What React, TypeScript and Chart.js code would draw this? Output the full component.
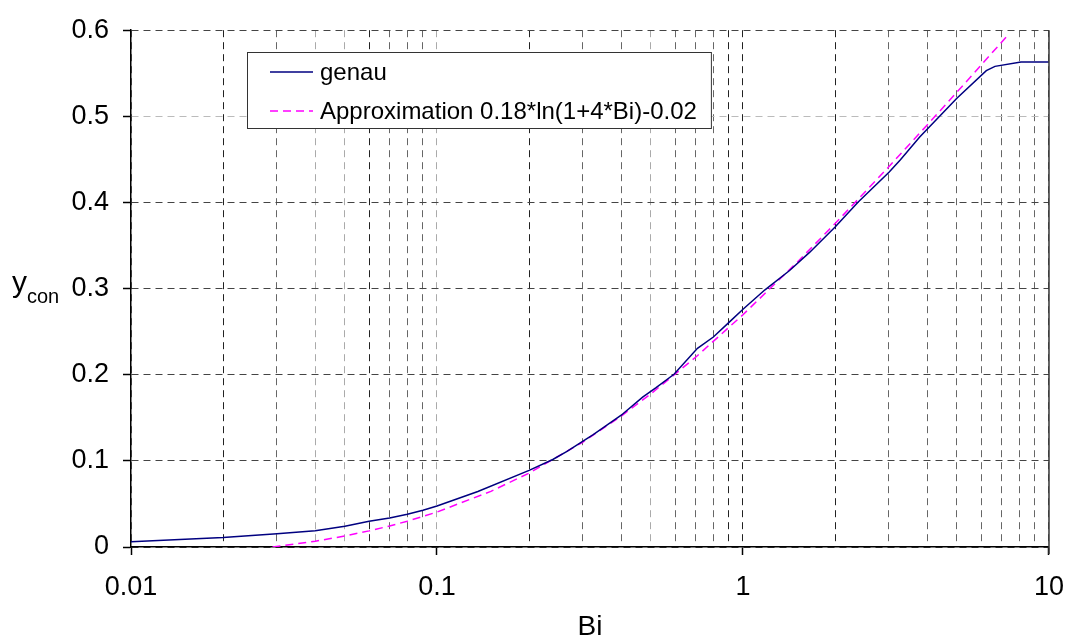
import React, { useEffect, useRef } from 'react';
import { Chart, registerables } from 'chart.js';

Chart.register(...registerables);

// ---- data ----
const genauBi = [0.01, 0.02, 0.03, 0.04, 0.05, 0.06, 0.07, 0.08, 0.09, 0.1, 0.136, 0.2, 0.239, 0.266, 0.3, 0.324, 0.4, 0.47, 0.52, 0.595, 0.71, 0.8, 0.9, 1.0, 1.18, 1.42, 1.65, 2.0, 2.38, 3.0, 3.27, 3.78, 5.0, 6.24, 6.66, 8.1, 10];
const genauY = [0.006, 0.011, 0.0155, 0.019, 0.024, 0.0298, 0.0336, 0.038, 0.0427, 0.0476, 0.0645, 0.089, 0.1016, 0.111, 0.123, 0.1306, 0.153, 0.174, 0.185, 0.2005, 0.2307, 0.2438, 0.2608, 0.276, 0.2986, 0.321, 0.342, 0.3714, 0.4005, 0.435, 0.4496, 0.476, 0.521, 0.553, 0.558, 0.563, 0.563];

const approxBi = [0.029, 0.04, 0.05, 0.06, 0.07, 0.08, 0.1, 0.15, 0.2, 0.3, 0.4, 0.5, 0.7, 1, 1.5, 2, 3, 4, 5, 6, 7.41];
const approxY = [0.0, 0.0067, 0.0128, 0.0187, 0.0244, 0.03, 0.0406, 0.0646, 0.0858, 0.1219, 0.152, 0.1778, 0.2203, 0.2697, 0.3303, 0.3755, 0.4417, 0.49, 0.528, 0.5594, 0.596];

const seriesLabels = ['genau', 'Approximation 0.18*ln(1+4*Bi)-0.02'];

const xTickValues = [0.01, 0.02, 0.03, 0.04, 0.05, 0.06, 0.07, 0.08, 0.09, 0.1, 0.2, 0.3, 0.4, 0.5, 0.6, 0.7, 0.8, 0.9, 1, 2, 3, 4, 5, 6, 7, 8, 9, 10];
const xLabelValues = [0.01, 0.1, 1, 10];
const xTickLabels = ['0.01', '0.1', '1', '10'];
const yTickValues = [0, 0.1, 0.2, 0.3, 0.4, 0.5, 0.6];
const yTickLabels = ['0', '0.1', '0.2', '0.3', '0.4', '0.5', '0.6'];

const xTitle = 'Bi';
const yTitleMain = 'y';
const yTitleSub = 'con';

// ---- styling ----
const FONT = '"Liberation Sans", Arial, Helvetica, sans-serif';
const same = (a: number, b: number) => Math.abs(Math.log10(a) - Math.log10(b)) < 1e-6;

const darkV = [0.02, 0.06, 0.2, 0.9, 1, 2];
const lightV = [0.04, 0.05, 0.1, 0.5];
function xGridColor(v: number) {
  if (darkV.some((d) => same(d, v))) return '#222';
  if (lightV.some((d) => same(d, v))) return '#aaa';
  return '#666';
}
function yGridColor(v: number) {
  if (Math.abs(v - 0.5) < 1e-6) return '#bbb';
  return '#444';
}

const decorPlugin = {
  id: 'decor',
  afterDraw(chart: any) {
    const { ctx, chartArea } = chart;
    const { left, right, top, bottom } = chartArea;
    ctx.save();
    // right border solid
    ctx.strokeStyle = '#333';
    ctx.lineWidth = 1.5;
    ctx.setLineDash([]);
    ctx.beginPath();
    ctx.moveTo(right, top);
    ctx.lineTo(right, bottom + 7);
    ctx.stroke();

    // x title
    ctx.fillStyle = '#000';
    ctx.font = `28px ${FONT}`;
    ctx.textAlign = 'center';
    ctx.textBaseline = 'alphabetic';
    ctx.fillText(xTitle, (left + right) / 2, 635);

    // y title with subscript
    ctx.textAlign = 'left';
    ctx.font = `30px ${FONT}`;
    ctx.fillText(yTitleMain, 12, 292);
    const yw = ctx.measureText(yTitleMain).width;
    ctx.font = `20px ${FONT}`;
    ctx.fillText(yTitleSub, 12 + yw, 303);

    // legend
    ctx.font = `24px ${FONT}`;
    const textX = 320;
    const textW = Math.max(...seriesLabels.map((l) => ctx.measureText(l).width));
    const bx = 247, by = 52, bh = 76;
    const bw = textX + textW + 14 - bx;
    ctx.fillStyle = '#fff';
    ctx.fillRect(bx, by, bw, bh);
    ctx.strokeStyle = '#333';
    ctx.lineWidth = 1;
    ctx.strokeRect(bx + 0.5, by + 0.5, bw, bh);
    const rows = [72, 111];
    chart.data.datasets.forEach((ds: any, i: number) => {
      const y = rows[i];
      ctx.strokeStyle = ds.borderColor;
      ctx.lineWidth = ds.borderWidth;
      ctx.setLineDash(ds.borderDash || []);
      ctx.beginPath();
      ctx.moveTo(270, y);
      ctx.lineTo(313, y);
      ctx.stroke();
      ctx.setLineDash([]);
      ctx.fillStyle = '#000';
      ctx.textBaseline = 'middle';
      ctx.fillText(ds.label, textX, y + 1);
    });
    ctx.restore();
  },
};

export default function App() {
  const ref = useRef<HTMLCanvasElement | null>(null);

  useEffect(() => {
    document.body.style.margin = '0';
    const canvas = ref.current;
    if (!canvas) return;
    const chart = new Chart(canvas, {
      type: 'line',
      data: {
        datasets: [
          {
            label: seriesLabels[0],
            data: genauBi.map((x, i) => ({ x, y: genauY[i] })),
            borderColor: '#000080',
            borderWidth: 1.5,
            pointRadius: 0,
            tension: 0,
            fill: false,
          },
          {
            label: seriesLabels[1],
            data: approxBi.map((x, i) => ({ x, y: approxY[i] })),
            borderColor: '#ff00ff',
            borderWidth: 1.5,
            borderDash: [8, 5],
            pointRadius: 0,
            tension: 0,
            fill: false,
          },
        ],
      },
      options: {
        animation: false,
        responsive: false,
        devicePixelRatio: 1,
        layout: { padding: { top: 17, right: 24, left: 0, bottom: 0 } },
        plugins: {
          legend: { display: false },
          tooltip: { enabled: false },
        },
        scales: {
          x: {
            type: 'logarithmic',
            min: 0.01,
            max: 10,
            afterBuildTicks: (scale: any) => {
              scale.ticks = xTickValues.map((v) => ({ value: v }));
            },
            afterFit: (scale: any) => {
              scale.height = 93;
            },
            ticks: {
              autoSkip: false,
              maxRotation: 0,
              minRotation: 0,
              padding: 16,
              color: '#000',
              font: { family: FONT, size: 27 },
              callback: (v: any) => {
                const j = xLabelValues.findIndex((d) => same(d, Number(v)));
                return j >= 0 ? xTickLabels[j] : '';
              },
            },
            grid: {
              display: true,
              drawOnChartArea: true,
              drawTicks: true,
              tickLength: 8,
              lineWidth: 1,
              color: (c: any) => xGridColor(c.tick ? c.tick.value : 1),
              tickColor: (c: any) =>
                c.tick && xLabelValues.some((d) => same(d, c.tick.value)) ? '#000' : 'rgba(0,0,0,0)',
              tickWidth: 1.5,
            },
            border: { display: true, color: '#000', width: 1.5, dash: [7, 5] },
          },
          y: {
            type: 'linear',
            min: 0,
            max: 0.6,
            afterBuildTicks: (scale: any) => {
              scale.ticks = yTickValues.map((v) => ({ value: v }));
            },
            afterFit: (scale: any) => {
              scale.width = 131;
            },
            ticks: {
              autoSkip: false,
              padding: 14,
              color: '#000',
              font: { family: FONT, size: 27 },
              callback: (_v: any, i: number) => yTickLabels[i],
            },
            grid: {
              display: true,
              drawTicks: true,
              tickLength: 8,
              lineWidth: 1,
              color: (c: any) => yGridColor(c.tick ? c.tick.value : 0),
              tickColor: '#000',
              tickWidth: 1.5,
            },
            border: { display: true, color: '#000', width: 1.5, dash: [7, 5] },
          },
        },
      },
      plugins: [decorPlugin],
    } as any);
    return () => chart.destroy();
  }, []);

  return (
    <div style={{ width: 1080, height: 640, background: '#fff' }}>
      <canvas ref={ref} width={1080} height={640} style={{ display: 'block', width: 1080, height: 640 }} />
    </div>
  );
}
